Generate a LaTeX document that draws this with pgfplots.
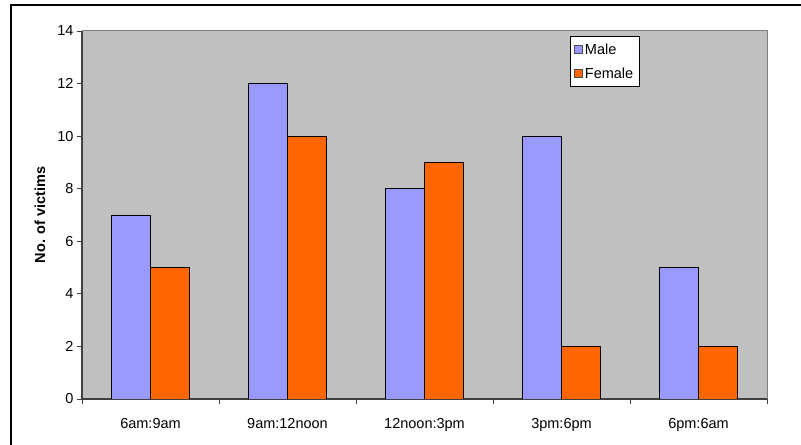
\documentclass[border=0pt]{standalone}
\usepackage{pgfplots}
\pgfplotsset{compat=1.18}
\usepackage{fontspec}
\setmainfont{Liberation Sans}
\definecolor{male}{HTML}{9999FF}
\definecolor{female}{HTML}{FF6600}
\definecolor{plotbg}{HTML}{C0C0C0}
\definecolor{axgray}{HTML}{808080}
\definecolor{axdark}{HTML}{404040}
\begin{document}
\begin{tikzpicture}[x=1bp,y=1bp]
\useasboundingbox (0,0) rectangle (801,445);
\draw[line width=1.3bp,black] (11,-20) -- (11,440) -- (830,440);
\begin{axis}[
  at={(82bp,46bp)}, anchor=south west,
  scale only axis, width=685bp, height=368bp,
  xmin=-0.5, xmax=4.5, ymin=0, ymax=14,
  ytick={0,2,...,14},
  xtick={-0.5,0.5,...,4.5}, xticklabels={},
  extra x ticks={0,1,2,3,4},
  extra x tick labels={6am:9am,9am:12noon,12noon:3pm,3pm:6pm,6pm:6am},
  extra x tick style={tick style={draw=none}, xticklabel style={yshift=-11bp}},
  major tick length=5bp,
  tick align=outside,
  tick style={axdark, line width=0.9bp},
  axis lines*=left,
  axis line style={axdark, line width=1.4bp},
  axis background/.style={fill=plotbg, draw=axgray, line width=1bp},
  ybar=0pt, bar width=39bp,
  ylabel={\bfseries No. of victims},
  ylabel style={at={(axis description cs:-0.0613,0.5)}, anchor=center, font=\fontsize{14.5bp}{16bp}\selectfont},
  tick label style={font=\fontsize{14.5bp}{16bp}\selectfont},
  /pgf/number format/assume math mode=true,
  legend style={at={(axis description cs:0.712,0.986)}, anchor=north west,
    draw=black, fill=white, line width=0.8bp,
    font=\fontsize{14.5bp}{16bp}\selectfont,
    inner xsep=4bp, inner ysep=5bp, row sep=8bp,
    nodes={inner sep=2bp, anchor=west}},
  legend cell align=left,
  legend image code/.code={\draw[#1,draw=black!70,line width=0.8bp] (0bp,-4bp) rectangle (8bp,4bp);},
]
\addplot[fill=male, draw=black, line width=0.9bp] coordinates {(0,7) (1,12) (2,8) (3,10) (4,5)};
\addplot[fill=female, draw=black, line width=0.9bp] coordinates {(0,5) (1,10) (2,9) (3,2) (4,2)};
\legend{Male,Female}
\end{axis}
\end{tikzpicture}
\end{document}
